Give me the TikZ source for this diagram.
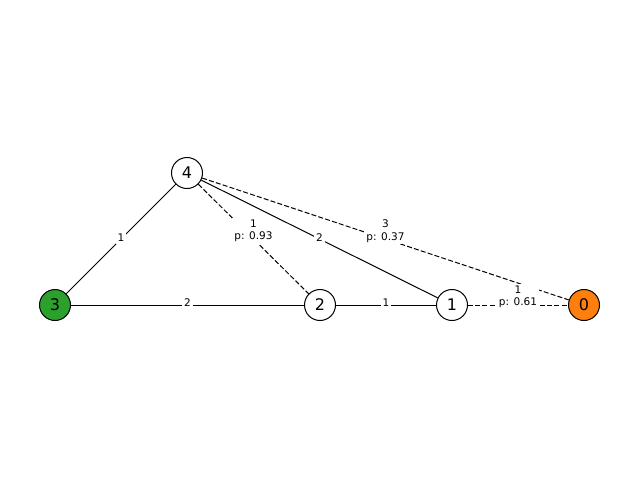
\documentclass[tikz,border=0pt]{standalone}
\usepackage{fontspec}
\setmainfont{DejaVu Sans}
\usepackage{xcolor}
\usetikzlibrary{arrows}
\usetikzlibrary{positioning}

\begin{document}
\begin{tikzpicture}[x=1pt, y=1pt, draw]
			\definecolor{ORANGE}{RGB}{255, 127, 14}
			\definecolor{GREEN}{RGB}{44, 160, 44}
			\tikzset{
				vertex/.style={circle, draw, line width={1pt}, minimum size={31pt}, inner sep=0pt, fill=white, font=\fontsize{16}{18}\selectfont},
				elabel/.style={fill=white, inner sep=2pt, align=center, font=\fontsize{10.5}{12.5}\selectfont}
			}
			\useasboundingbox (0, 0) rectangle (640, -480);
			\node[vertex] (n4) at (187.000, -173.000) {4};
			\node[vertex, fill=GREEN] (n3) at ( 55.000, -305.000) {3};
			\node[vertex] (n2) at (320.000, -305.000) {2};
			\node[vertex] (n1) at (452.000, -305.000) {1};
			\node[vertex, fill=ORANGE] (n0) at (584.000, -305.000) {0};
			\draw[-, line width={1pt}] (n4) to node[elabel, yshift=1pt] {1} (n3);;
			\draw[-, line width={1pt}] (n3) to node[elabel, yshift=2pt] {2} (n2);;
			\draw[-, line width={1pt}] (n2) to node[elabel, yshift=2pt] {1} (n1);;
			\draw[-, line width={1pt}] (n4) to node[elabel, yshift=1pt] {2} (n1);;
			\draw[-, line width={1pt}, dash pattern=on 5pt off 2.2pt] (n4) to node[elabel, yshift=8pt] {1\\p: 0.93} (n2);;
			\draw[-, line width={1pt}, dash pattern=on 5pt off 2.2pt] (n4) to node[elabel, yshift=8pt] {3\\p: 0.37} (n0);;
			\draw[-, line width={1pt}, dash pattern=on 5pt off 2.2pt] (n1) to node[elabel, yshift=8pt] {1\\p: 0.61} (n0);
		\end{tikzpicture}
\end{document}
